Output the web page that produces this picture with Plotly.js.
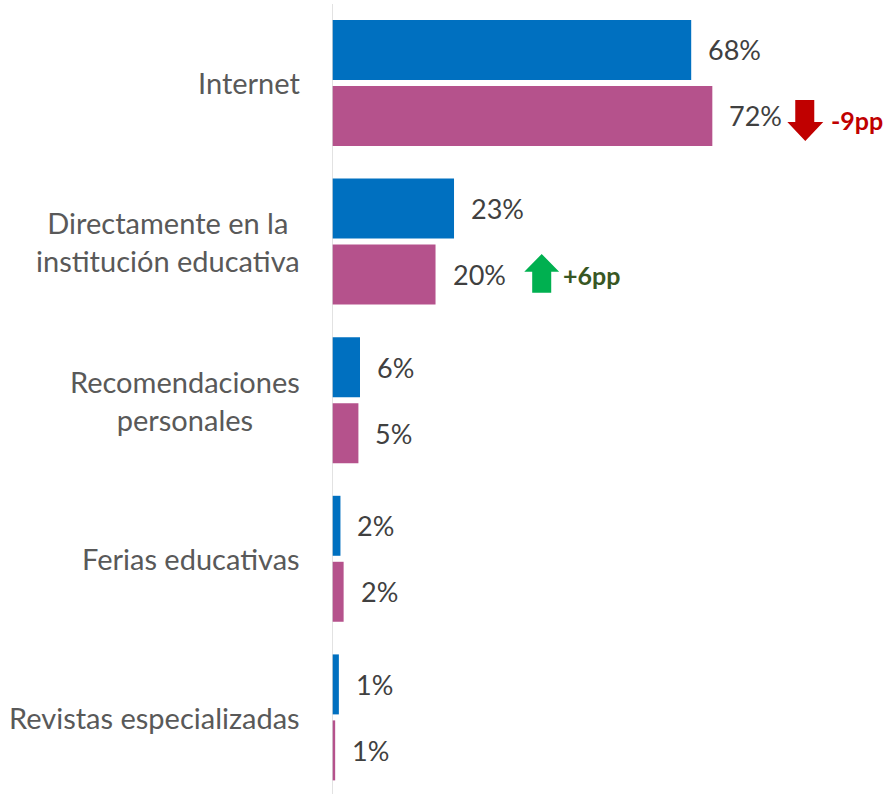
<!DOCTYPE html>
<html>
<head>
<meta charset="utf-8">
<script src="https://cdn.plot.ly/plotly-3.0.1.min.js"></script>
<style>html,body{margin:0;padding:0;background:#fff;}#chart{width:884px;height:794px;}</style>
</head>
<body>
<div id="chart"></div>
<script>
// ---- data ----
const categories = ["Internet", "Directamente en la<br>institución educativa", "Recomendaciones<br>personales", "Ferias educativas", "Revistas especializadas"];
const seriesA = [68, 23.1, 5.3, 1.6, 1.3];      // blue bars
const seriesB = [72, 19.6, 5.0, 2.2, 0.6];      // pink bars
const labelsA = ["68%", "23%", "6%", "2%", "1%"];
const labelsB = ["72%", "20%", "5%", "2%", "1%"];
const changeLabels = ["-9pp", "+6pp"];

const FONT = "Lato, 'Open Sans', sans-serif";
const TXT = "#595959";
const BLUE = "#0070C0";
const PINK = "#B5528C";

const traces = [
  {type: "bar", orientation: "h", x: seriesA, y: categories, marker: {color: BLUE}, hoverinfo: "none"},
  {type: "bar", orientation: "h", x: seriesB, y: categories, marker: {color: PINK}, hoverinfo: "none"}
];

const annotations = [];
categories.forEach((c, i) => {
  annotations.push({xref: "paper", yref: "y", x: 0, y: i, xanchor: "right", yanchor: "middle",
    xshift: -30, text: c, showarrow: false, align: "center", font: {family: FONT, size: 29, color: TXT}});
  annotations.push({xref: "x", yref: "y", x: seriesA[i], y: i, xanchor: "left", yanchor: "middle",
    xshift: 15, yshift: 33, text: labelsA[i], showarrow: false, font: {family: FONT, size: 27, color: "#404040"}});
  annotations.push({xref: "x", yref: "y", x: seriesB[i], y: i, xanchor: "left", yanchor: "middle",
    xshift: 15, yshift: -33, text: labelsB[i], showarrow: false, font: {family: FONT, size: 27, color: "#404040"}});
});
annotations.push({xref: "x", yref: "y", x: 94.1, y: 0.235, xanchor: "left", yanchor: "middle",
  text: "<b>" + changeLabels[0] + "</b>", showarrow: false, font: {family: FONT, size: 25, color: "#C00000"}});
annotations.push({xref: "x", yref: "y", x: 43.4, y: 1.21, xanchor: "left", yanchor: "middle",
  text: "<b>" + changeLabels[1] + "</b>", showarrow: false, font: {family: FONT, size: 25, color: "#385723"}});

const shapes = [
  // axis line
  {type: "line", xref: "x", yref: "paper", x0: 0, x1: 0, y0: 0, y1: 1 - 4/794, line: {color: "#D9D9D9", width: 1.5}, layer: "above"},
  // red down arrow
  {type: "path", xref: "x", yref: "y", fillcolor: "#C00000", line: {width: 0},
   path: "M 87.7 0.107 L 91.3 0.107 L 91.3 0.246 L 93.0 0.246 L 89.6 0.366 L 86.2 0.246 L 87.7 0.246 Z"},
  // green up arrow
  {type: "path", xref: "x", yref: "y", fillcolor: "#00B050", line: {width: 0},
   path: "M 37.9 1.323 L 41.5 1.323 L 41.5 1.19 L 43.0 1.19 L 39.7 1.079 L 36.4 1.19 L 37.9 1.19 Z"}
];

const layout = {
  width: 884, height: 794,
  margin: {l: 332, r: 0, t: 0, b: 0},
  paper_bgcolor: "#fff", plot_bgcolor: "#fff",
  barmode: "group", bargap: 0.168, bargroupgap: 0.091,
  showlegend: false,
  xaxis: {range: [0, 104.5], visible: false, fixedrange: true},
  yaxis: {type: "category", categoryarray: categories, range: [4.483, -0.523], showticklabels: false,
          showgrid: false, zeroline: false, showline: false, ticks: "", fixedrange: true},
  annotations: annotations,
  shapes: shapes
};

Plotly.newPlot("chart", traces, layout, {displayModeBar: false, staticPlot: true});
</script>
</body>
</html>
